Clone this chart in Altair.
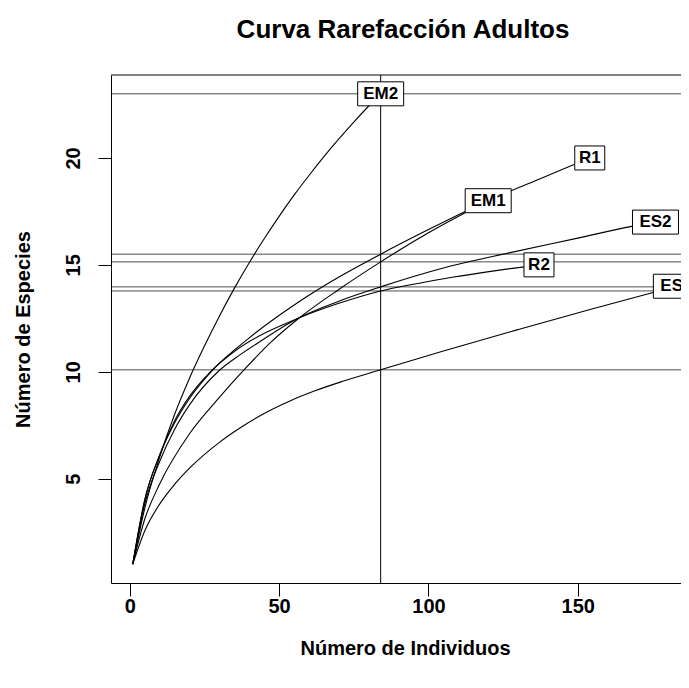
import altair as alt
import pandas as pd

# ---- data ----
samples = ["EM1", "EM2", "ES1", "ES2", "R1", "R2"]
total_individuals = [120, 84, 183, 176, 154, 137]
observed_species = [18, 23, 14, 17, 20, 15]
sample_size = 84
rarefied_at_sample = [15.14, 23.0, 10.09, 13.97, 15.5, 13.78]

em1_x = [1, 5, 10, 20, 30, 38, 47, 56.4, 70, 84, 100, 120]
em1_y = [1, 3.1, 4.75, 7.1, 8.8, 10.05, 11.35, 12.48, 13.85, 15.14, 16.5, 18]

em2_x = [1, 5, 10, 15, 20, 25, 30, 35, 40, 45, 50, 55, 60, 65, 70, 75, 80, 84]
em2_y = [1, 3.6, 6.0, 8.0, 9.7, 11.2, 12.6, 13.9, 15.1, 16.22, 17.27, 18.26, 19.18,
         20.06, 20.89, 21.68, 22.43, 23]

es1_x = [1, 5, 10, 15, 20.6, 30, 37.4, 45, 54, 62, 71, 84, 105, 130, 155, 183]
es1_y = [1, 2.55, 3.81, 4.73, 5.57, 6.7, 7.42, 8.05, 8.66, 9.11, 9.54, 10.09, 10.97,
         11.97, 12.95, 14]

es2_x = [1, 5, 10, 15, 20, 29.5, 37, 44, 56, 70, 84, 105, 127, 150, 168, 176]
es2_y = [1, 3.8, 5.8, 7.3, 8.45, 10.0, 10.8, 11.45, 12.48, 13.3, 13.97, 14.85,
         15.56, 16.25, 16.8, 17]

r1_x = [1, 5, 10, 15, 20, 27.8, 39.6, 56.4, 70.9, 84, 100, 120, 137, 154]
r1_y = [1, 4.0, 6.1, 7.6, 8.75, 10.09, 11.54, 13.25, 14.5, 15.5, 16.65, 18.0, 19.0, 20]

r2_x = [1, 5, 10, 15, 20, 27, 35, 43, 56, 70, 84, 96, 108, 122, 137]
r2_y = [1, 4.0, 6.1, 7.7, 8.85, 10.0, 10.95, 11.65, 12.48, 13.2, 13.78, 14.12,
        14.42, 14.72, 15]

x_ticks = [0, 50, 100, 150]
y_ticks = [5, 10, 15, 20]
chart_title = "Curva Rarefacción Adultos"

curves = {
    "EM1": (em1_x, em1_y), "EM2": (em2_x, em2_y), "ES1": (es1_x, es1_y),
    "ES2": (es2_x, es2_y), "R1": (r1_x, r1_y), "R2": (r2_x, r2_y),
}
rows = []
for name, (xs, ys) in curves.items():
    for i, (a, b) in enumerate(zip(xs, ys)):
        rows.append({"sample": name, "n": a, "s": b, "order": i})
curve_df = pd.DataFrame(rows)

labels_df = pd.DataFrame({"sample": samples, "n": total_individuals, "s": observed_species})
labels_df["len"] = labels_df["sample"].str.len()
hl_df = pd.DataFrame({"s": rarefied_at_sample})
vl_df = pd.DataFrame({"n": [sample_size]})
one_df = pd.DataFrame({"t": [chart_title]})

FONT = "Liberation Sans"
PLOT_W = 570
xscale = alt.Scale(domain=[-6.28, -6.28 + PLOT_W / 2.987], nice=False, zero=False)
yscale = alt.Scale(domain=[0.12, 23.88], nice=False, zero=False)

xaxis = alt.Axis(values=x_ticks, grid=False, domainColor="black", domainWidth=1,
                 tickSize=13, tickColor="black", tickWidth=1,
                 labelFont=FONT, labelFontSize=20, labelFontWeight="bold", labelColor="black",
                 labelPadding=16, labelBaseline="alphabetic", labelFlush=False,
                 title="Número de Individuos", titleFont=FONT, titleFontSize=20,
                 titleFontWeight="bold", titleColor="black", titleX=294, titleY=71,
                 titleAlign="center", titleBaseline="alphabetic")
yaxis = alt.Axis(values=y_ticks, grid=False, domainColor="black", domainWidth=1,
                 tickSize=13, tickColor="black", tickWidth=1,
                 labelFont=FONT, labelFontSize=20, labelFontWeight="bold", labelColor="black",
                 labelAngle=270, labelAlign="center", labelBaseline="alphabetic",
                 labelPadding=19, labelFlush=False,
                 title="Número de Especies", titleFont=FONT, titleFontSize=20,
                 titleFontWeight="bold", titleColor="black", titleAngle=270,
                 titleX=-82, titleY=254, titleAlign="center", titleBaseline="alphabetic")

def X(field):
    return alt.X(field, type="quantitative", scale=xscale, axis=xaxis)

def Y(field):
    return alt.Y(field, type="quantitative", scale=yscale, axis=yaxis)

top_border = alt.Chart(one_df).mark_rule(color="black", strokeWidth=1).encode(y=alt.value(0))

title_mark = alt.Chart(one_df).mark_text(font=FONT, fontSize=26, fontWeight="bold",
                                         color="black", align="center",
                                         baseline="alphabetic").encode(
    x=alt.value(292), y=alt.value(-37), text="t:N")

hlines = alt.Chart(hl_df).mark_rule(color="black", strokeWidth=0.7).encode(y=Y("s"))
vline = alt.Chart(vl_df).mark_rule(color="black", strokeWidth=1).encode(x=X("n"))

lines = alt.Chart(curve_df).mark_line(color="black", strokeWidth=1.1, interpolate="monotone",
                                      clip=True).encode(
    x=X("n"), y=Y("s"), detail="sample:N", order="order:Q")

box3 = alt.Chart(labels_df).transform_filter("datum.len == 3").mark_rect(
    fill="white", stroke="black", strokeWidth=1, clip=True,
    xOffset=-23, x2Offset=23, yOffset=-12, y2Offset=12).encode(
    x=X("n"), x2="n:Q", y=Y("s"), y2="s:Q")
box2 = alt.Chart(labels_df).transform_filter("datum.len == 2").mark_rect(
    fill="white", stroke="black", strokeWidth=1, clip=True,
    xOffset=-15, x2Offset=15, yOffset=-12, y2Offset=12).encode(
    x=X("n"), x2="n:Q", y=Y("s"), y2="s:Q")
texts = alt.Chart(labels_df).mark_text(font=FONT, fontSize=17, fontWeight="bold",
                                       color="black", align="center", baseline="middle",
                                       clip=True).encode(
    x=X("n"), y=Y("s"), text="sample:N")

chart = alt.layer(top_border, hlines, vline, lines, box3, box2, texts, title_mark).properties(
    width=PLOT_W, height=508,
    autosize=alt.AutoSizeParams(type="none"),
    padding={"left": 103, "top": 67, "right": 0, "bottom": 88},
).configure_view(stroke=None)

chart.save("out.html", embed_options={"renderer": "svg", "actions": False})
